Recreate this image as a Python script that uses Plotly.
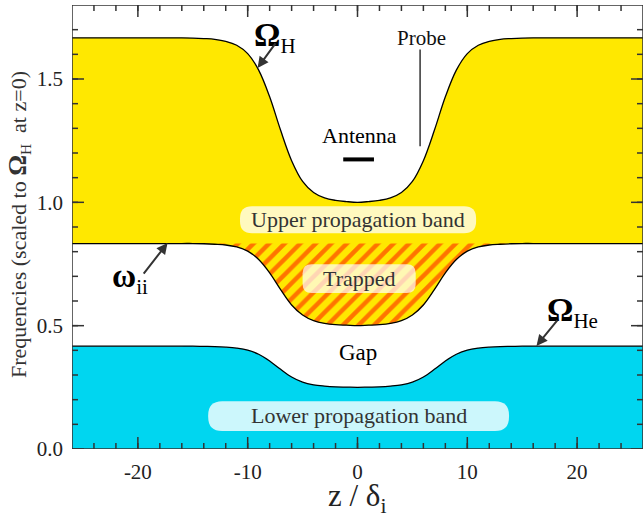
import plotly.graph_objects as go

# ---- data ----
z = [-26, -16, -15, -14, -13, -12, -11, -10, -9, -8, -7, -6, -5, -4, -3, -2, -1, 0,
     1, 2, 3, 4, 5, 6, 7, 8, 9, 10, 11, 12, 13, 14, 15, 16, 26]
omega_H = [1.667, 1.667, 1.666, 1.664, 1.661, 1.653, 1.637, 1.603, 1.536, 1.428, 1.292,
           1.169, 1.085, 1.040, 1.018, 1.008, 1.003, 1.000, 1.003, 1.008, 1.018, 1.040,
           1.085, 1.169, 1.292, 1.428, 1.536, 1.603, 1.637, 1.653, 1.661, 1.664, 1.666,
           1.667, 1.667]
omega_ii = [0.833, 0.833, 0.833, 0.832, 0.830, 0.827, 0.819, 0.802, 0.768, 0.714, 0.646,
            0.584, 0.543, 0.520, 0.509, 0.504, 0.502, 0.500, 0.502, 0.504, 0.509, 0.520,
            0.543, 0.584, 0.646, 0.714, 0.768, 0.802, 0.819, 0.827, 0.830, 0.832, 0.833,
            0.833, 0.833]
omega_He = [0.417, 0.417, 0.417, 0.416, 0.415, 0.413, 0.409, 0.401, 0.384, 0.357, 0.323,
            0.292, 0.271, 0.260, 0.255, 0.252, 0.251, 0.250, 0.251, 0.252, 0.255, 0.260,
            0.271, 0.292, 0.323, 0.357, 0.384, 0.401, 0.409, 0.413, 0.415, 0.416, 0.417,
            0.417, 0.417]
omega_ii_edge = 0.833

x_range = [-26, 26]
y_range = [0, 1.8]
x_tickvals = [-20, -10, 0, 10, 20]
x_ticktext = ['-20', '-10', '0', '10', '20']
y_tickvals = [0.0, 0.5, 1.0, 1.5]
y_ticktext = ['0.0', '0.5', '1.0', '1.5']
x_minor_step = 2
y_minor_step = 0.1

YELLOW = '#FFE800'
CYAN = '#00D6F0'
FONT = 'Liberation Serif'
AX = '#333333'
W, H = 644, 519
ML, MR, MT, MB = 72, 1, 5, 70
PW, PH = W - ML - MR, H - MT - MB
PXX = PW / (x_range[1] - x_range[0])
PXY = PH / (y_range[1] - y_range[0])

fig = go.Figure()

# lower band (cyan)
fig.add_trace(go.Scatter(x=z, y=omega_He, mode='lines', line=dict(color='black', width=1.3, shape='spline'),
                         fill='tozeroy', fillcolor=CYAN, hoverinfo='skip'))
# upper band (yellow) between omega_ii and Omega_H
fig.add_trace(go.Scatter(x=z, y=omega_ii, mode='lines', line=dict(width=0, shape='spline'),
                         hoverinfo='skip'))
fig.add_trace(go.Scatter(x=z, y=omega_H, mode='lines', line=dict(color='black', width=1.3, shape='spline'),
                         fill='tonexty', fillcolor=YELLOW, hoverinfo='skip'))
# trapped (hatched) region between omega_ii and its edge level
fig.add_trace(go.Scatter(x=z, y=[omega_ii_edge] * len(z), mode='lines', line=dict(width=0),
                         hoverinfo='skip'))
fig.add_trace(go.Scatter(x=z, y=omega_ii, mode='lines', line=dict(color='black', width=1.3, shape='spline'),
                         fill='tonexty', fillcolor=YELLOW,
                         fillpattern=dict(shape='/', fgcolor='#FF0000', bgcolor=YELLOW, size=11, solidity=0.4),
                         hoverinfo='skip'))

# frame and inside ticks on all four sides, drawn on the axes' own scales
fx, fy = [], []


def seg(x0, y0, x1, y1):
    fx.extend([x0, x1, None])
    fy.extend([y0, y1, None])


def xtick(v, length):
    d = length / PXY
    seg(v, y_range[0], v, y_range[0] + d)
    seg(v, y_range[1], v, y_range[1] - d)


def ytick(v, length):
    d = length / PXX
    seg(x_range[0], v, x_range[0] + d, v)
    seg(x_range[1], v, x_range[1] - d, v)


n_xm = int(round((x_range[1] - x_range[0]) / x_minor_step))
for i in range(1, n_xm):
    xtick(x_range[0] + i * x_minor_step, 6)
for v in x_tickvals:
    xtick(v, 12)
n_ym = int(round((y_range[1] - y_range[0]) / y_minor_step))
for i in range(1, n_ym):
    ytick(round(y_range[0] + i * y_minor_step, 3), 6)
for v in y_tickvals:
    ytick(v, 12)
fx.extend([x_range[0], x_range[1], x_range[1], x_range[0], x_range[0], None])
fy.extend([y_range[0], y_range[0], y_range[1], y_range[1], y_range[0], None])
fig.add_trace(go.Scatter(x=fx, y=fy, mode='lines', line=dict(color=AX, width=1.5),
                         connectgaps=False, cliponaxis=False, hoverinfo='skip'))


def pill(x0, x1, y0, y1, r):
    rx, ry = r / PXX, r / PXY
    return (f"M {x0+rx},{y0} L {x1-rx},{y0} Q {x1},{y0} {x1},{y0+ry} L {x1},{y1-ry} "
            f"Q {x1},{y1} {x1-rx},{y1} L {x0+rx},{y1} Q {x0},{y1} {x0},{y1-ry} "
            f"L {x0},{y0+ry} Q {x0},{y0} {x0+rx},{y0} Z")


shapes = [
    dict(type='path', path=pill(-10.7, 10.8, 0.875, 0.984, 12), fillcolor='rgba(255,255,255,0.75)',
         line=dict(width=0)),
    dict(type='path', path=pill(-5.0, 5.3, 0.632, 0.749, 9), fillcolor='rgba(255,255,255,0.7)',
         line=dict(width=0)),
    dict(type='path', path=pill(-13.6, 13.8, 0.073, 0.194, 14), fillcolor='rgba(255,255,255,0.8)',
         line=dict(width=0)),
    # probe
    dict(type='line', x0=5.7, x1=5.7, y0=1.227, y1=1.62, line=dict(color=AX, width=1.5)),
    # antenna
    dict(type='line', x0=-1.3, x1=1.5, y0=1.174, y1=1.174, line=dict(color='black', width=4)),
]

ann = []
txt = dict(family=FONT, size=22, color='#333333')
ann.append(dict(x=0.05, y=0.931, text='Upper propagation band', showarrow=False, font=txt))
ann.append(dict(x=0.15, y=0.692, text='Trapped', showarrow=False, font=txt))
ann.append(dict(x=0.1, y=0.135, text='Lower propagation band', showarrow=False, font=txt))
ann.append(dict(x=0, y=0.393, text='Gap', showarrow=False, font=dict(family=FONT, size=23, color='black')))
ann.append(dict(x=0.2, y=1.27, text='Antenna', showarrow=False, font=dict(family=FONT, size=22, color='black')))
ann.append(dict(x=5.8, y=1.668, text='Probe', showarrow=False, font=dict(family=FONT, size=21, color='#111111')))

lab = dict(family=FONT, size=33, color='black')
sub = '<span style="font-size:21px">%s</span>'
ann.append(dict(x=-7.5, y=1.67, text='<b>Ω</b><sub>' + sub % 'H' + '</sub>', showarrow=False, font=lab))
ann.append(dict(x=-20.7, y=0.69, text='<b>ω</b><sub>' + sub % 'ii' + '</sub>', showarrow=False, font=lab))
ann.append(dict(x=19.6, y=0.555, text='<b>Ω</b><sub>' + sub % 'He' + '</sub>', showarrow=False, font=lab))

arrow = dict(showarrow=True, text='', arrowhead=2, arrowsize=1.1, arrowwidth=2, arrowcolor=AX,
             xref='x', yref='y')
ann.append(dict(arrow, x=-9.1, y=1.545, ax=19, ay=-26))
ann.append(dict(arrow, x=-17.3, y=0.835, ax=-25, ay=32))
ann.append(dict(arrow, x=16.3, y=0.418, ax=22, ay=-27))

# axis titles
ann.append(dict(xref='paper', yref='paper', x=-0.123, y=0.505, textangle=-90, showarrow=False,
                text='Frequencies (scaled to <span style="font-size:26px"><b>Ω</b></span><sub>H</sub>  at z=0)',
                font=dict(family=FONT, size=22, color='#333333')))
ann.append(dict(xref='paper', yref='paper', x=0.5, y=-0.16, showarrow=False,
                text='z / δ<sub>i</sub>', font=dict(family=FONT, size=31, color='#222222')))

major = dict(showline=False, ticks='', showgrid=False, zeroline=False,
             tickfont=dict(family=FONT, size=21, color='#222222'))

fig.update_layout(
    width=W, height=H,
    margin=dict(l=ML, r=MR, t=MT, b=MB),
    paper_bgcolor='white', plot_bgcolor='white',
    showlegend=False,
    shapes=shapes, annotations=ann,
    xaxis=dict(major, range=x_range, tickmode='array', tickvals=x_tickvals, ticktext=x_ticktext,
               ticklabelstandoff=8),
    yaxis=dict(major, range=y_range, tickmode='array', tickvals=y_tickvals, ticktext=y_ticktext,
               ticklabelstandoff=8),
)

fig.write_html('out.html', config={'displayModeBar': False},
               post_script="document.body.style.margin='0';document.body.style.overflow='hidden';")
